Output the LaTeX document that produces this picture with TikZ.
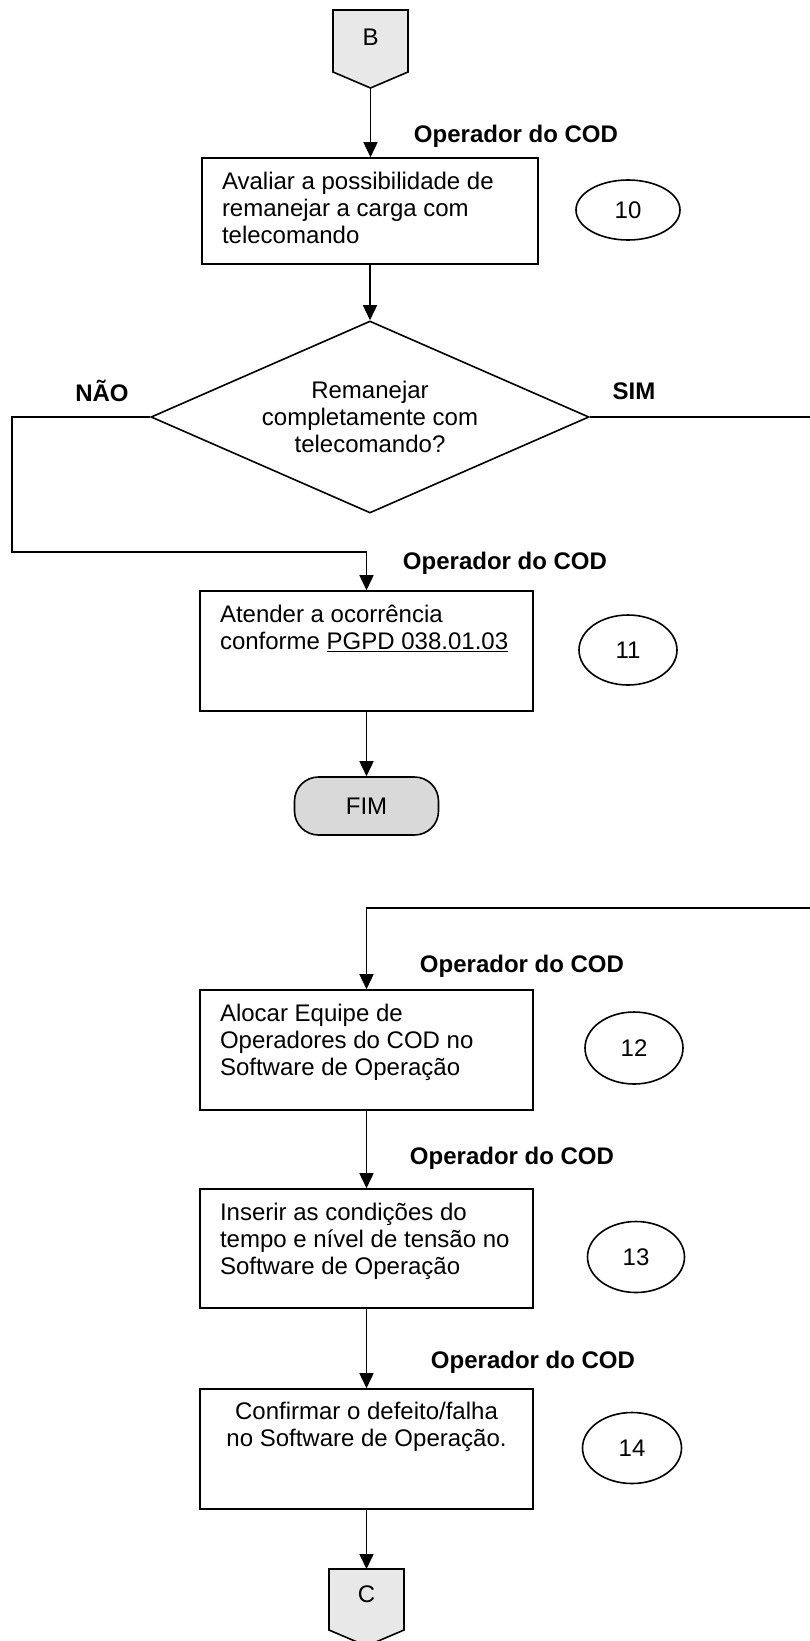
\documentclass[tikz,border=0pt]{standalone}
\usepackage{fontspec}
\setmainfont{Liberation Sans}
\usetikzlibrary{arrows.meta,shapes.geometric}
\definecolor{offfill}{HTML}{E8E8E8}
\definecolor{fimfill}{HTML}{D9D9D9}
\newcommand{\pbl}[3]{\parbox[c][#1][t]{#2}{\raggedright\leftskip=20pt\rule{0pt}{31pt}#3}}
\tikzset{
  every node/.style={font=\fontsize{24}{27.3}\selectfont},
  ln/.style={line width=1.6pt},
  arr/.style={ln,-{Triangle[length=15pt,width=14pt]}},
  procbox/.style={draw,ln,inner sep=0pt,fill=white},
  role/.style={font=\fontsize{24}{27.3}\selectfont\bfseries,inner sep=0pt},
  stepnum/.style={draw,ellipse,ln,inner sep=0pt},
  offpage/.style={draw,ln,fill=offfill,line join=miter},
  decision/.style={draw,diamond,ln,inner sep=0pt,minimum width=438pt,minimum height=192pt},
  term/.style={draw,ln,fill=fimfill,rounded corners=24pt,minimum width=144pt,minimum height=58pt,inner sep=0pt},
}
\begin{document}
\begin{tikzpicture}[x=1pt,y=-1pt]
\useasboundingbox (0,0) rectangle (809,1641);

% connector B
\path[offpage] (333,10) -- (408,10) -- (408,72) -- (370.5,88) -- (333,72) -- cycle;
\node (B) at (370.5,37) {B};
\coordinate (Btip) at (370.5,88);

% step 10
\node[role] (r10) at (516,136) {Operador do COD};
\node[procbox] (box1) at (370,211) {\pbl{106pt}{336pt}{Avaliar a possibilidade de\\remanejar a carga com\\telecomando}};
\node[stepnum,minimum width=104pt,minimum height=60pt] (e10) at (628,210) {10};

% decision
\node[decision,label={[align=center]center:Remanejar\\completamente com\\telecomando?}] (dec) at (370,417) {};
\node[role] (nao) at (102,391) {NÃO};
\node[role] (sim) at (634,391) {SIM};

% step 11
\node[role] (r11) at (505,563) {Operador do COD};
\node[procbox] (box11) at (366.5,651) {\pbl{120pt}{333pt}{Atender a ocorrência\\conforme \underline{PGPD 038.01.03}}};
\node[stepnum,minimum width=98pt,minimum height=70pt] (e11) at (628,650) {11};

\node[term] (fim) at (366.5,806) {FIM};

% step 12
\node[role] (r12) at (522,966) {Operador do COD};
\node[procbox] (box12) at (366.5,1050) {\pbl{120pt}{333pt}{Alocar Equipe de\\Operadores do COD no\\Software de Operação}};
\node[stepnum,minimum width=98pt,minimum height=72pt] (e12) at (634,1048) {12};

% step 13
\node[role] (r13) at (512,1158) {Operador do COD};
\node[procbox] (box13) at (366.5,1248.5) {\pbl{119pt}{333pt}{Inserir as condições do\\tempo e nível de tensão no\\Software de Operação}};
\node[stepnum,minimum width=97pt,minimum height=71pt] (e13) at (636,1257) {13};

% step 14
\node[role] (r14) at (533,1362) {Operador do COD};
\node[procbox] (box14) at (366.5,1449) {\parbox[c][120pt][t]{333pt}{\centering\rule{0pt}{30pt}Confirmar o defeito/falha\\no Software de Operação.}};
\node[stepnum,minimum width=99pt,minimum height=71pt] (e14) at (632,1448) {14};

% connector C
\path[offpage] (329,1569) -- (404,1569) -- (404,1630) -- (366.5,1646) -- (329,1630) -- cycle;
\node (C) at (366.5,1594) {C};
\coordinate (Ctop) at (366.5,1569);

% routing points
\coordinate (n1) at (12,417);
\coordinate (n2) at (12,552);
\coordinate (s1) at (812,417);
\coordinate (s2) at (812,908);

% connectors
\draw[arr] (Btip) -- (Btip |- box1.north);
\draw[arr] (box1.south) -- (dec.north);
\draw[arr] (dec.west) -- (n1) -- (n2) -- (box11.north |- n2) -- (box11.north);
\draw[arr] (box11.south) -- (fim.north);
\draw[arr] (dec.east) -- (s1) -- (s2) -- (box12.north |- s2) -- (box12.north);
\draw[arr] (box12.south) -- (box13.north);
\draw[arr] (box13.south) -- (box14.north);
\draw[arr] (box14.south) -- (Ctop);
\end{tikzpicture}
\end{document}
